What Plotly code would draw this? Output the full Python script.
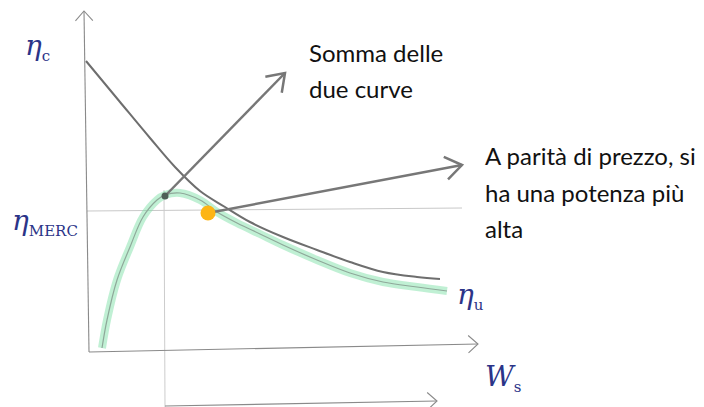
import numpy as np
import plotly.graph_objects as go

# Sketch coordinates: x = power Ws, y = efficiency (arbitrary units, origin at the axes corner)
eta_c_x = [-0.01, 0.33, 0.63, 0.88, 1.13, 1.38, 1.63, 1.96, 2.30, 2.63, 2.96, 3.30, 3.53]
eta_c_y = [2.91, 2.50, 2.14, 1.85, 1.61, 1.45, 1.30, 1.15, 1.02, 0.90, 0.80, 0.75, 0.73]

eta_u_x = [0.15, 0.20, 0.30, 0.43, 0.56, 0.70, 0.78, 0.93, 1.13, 1.30, 1.50, 1.73, 1.96, 2.30, 2.63, 2.96, 3.30, 3.60]
eta_u_y = [0.04, 0.32, 0.72, 1.05, 1.35, 1.52, 1.57, 1.59, 1.52, 1.40, 1.29, 1.18, 1.07, 0.92, 0.79, 0.70, 0.65, 0.61]

# Axes of the sketch (start, end)
y_axis = ([0.02, -0.03], [0.0, 3.41])
x_axis = ([0.02, 3.91], [0.0, 0.08])
x_axis_low = ([0.78, 3.50], [-0.54, -0.49])
guide_v = ([0.77, 0.78], [1.62, -0.55])
guide_h = ([0.0, 3.75], [1.41, 1.44])

# Highlighted points and callout arrows
peak_pt = (0.78, 1.56)
merc_pt = (1.21, 1.39)
arrow_sum_tip = (1.98, 2.79)
arrow_merc_tip = (3.75, 1.87)

# Text
note_sum = ["Somma delle", "due curve"]
note_sum_pos = (2.20, [3.00, 2.64])
note_merc = ["A parità di prezzo, si", "ha una potenza più", "alta"]
note_merc_pos = (3.96, [1.97, 1.60, 1.24])

INK = "#2b3488"


def chevron(tip, prev, length=0.13, half_angle=38):
    d = np.array(tip) - np.array(prev)
    d = d / np.linalg.norm(d)
    a = np.radians(half_angle)
    out = []
    for s in (1, -1):
        c, sn = np.cos(s * a), np.sin(s * a)
        r = np.array([d[0] * c - d[1] * sn, d[0] * sn + d[1] * c])
        out.append(np.array(tip) - length * r)
    return [out[0][0], tip[0], out[1][0]], [out[0][1], tip[1], out[1][1]]


fig = go.Figure()

def line(xs, ys, color, width, dash=None, shape="linear", opacity=1.0):
    fig.add_trace(go.Scatter(x=xs, y=ys, mode="lines", opacity=opacity,
                             line=dict(color=color, width=width, dash=dash, shape=shape),
                             hoverinfo="skip", showlegend=False))

# guides
line(*guide_v, "#cccccc", 1)
line(*guide_h, "#c8c8c8", 1)

# axes with open arrowheads
for ax_xy in (y_axis, x_axis, x_axis_low):
    line(*ax_xy, "#8a8a8a", 1.1)
    tip = (ax_xy[0][1], ax_xy[1][1])
    prev = (ax_xy[0][0], ax_xy[1][0])
    line(*chevron(tip, prev, length=0.13, half_angle=42), "#8a8a8a", 1.1)

# efficiency curves
line(eta_u_x, eta_u_y, "rgba(130,225,170,0.5)", 8, shape="spline")
line(eta_u_x, eta_u_y, "#8fa89a", 1.2, shape="spline")
line(eta_c_x, eta_c_y, "#6e6e6e", 2, shape="spline")

# callout arrows
for start, tip in ((peak_pt, arrow_sum_tip), (merc_pt, arrow_merc_tip)):
    line([start[0], tip[0]], [start[1], tip[1]], "#777777", 2.5)
    line(*chevron(tip, start, length=0.2, half_angle=35), "#777777", 2.5)

fig.add_trace(go.Scatter(x=[peak_pt[0]], y=[peak_pt[1]], mode="markers",
                         marker=dict(size=7, color="#4f5f57"), hoverinfo="skip", showlegend=False))
fig.add_trace(go.Scatter(x=[merc_pt[0]], y=[merc_pt[1]], mode="markers",
                         marker=dict(size=15, color="#fdb515"), hoverinfo="skip", showlegend=False))

# notes
note_font = dict(family="Lato", size=24, color="#111111")
for txt, yy in zip(note_sum, note_sum_pos[1]):
    fig.add_annotation(x=note_sum_pos[0], y=yy, text=txt, showarrow=False, xanchor="left",
                       yanchor="middle", font=note_font)
for txt, yy in zip(note_merc, note_merc_pos[1]):
    fig.add_annotation(x=note_merc_pos[0], y=yy, text=txt, showarrow=False, xanchor="left",
                       yanchor="middle", font=note_font)

# handwritten symbols
hand = dict(family="DejaVu Serif", size=28, color=INK)
small = "<span style='font-size:15px'>{}</span>"
fig.add_annotation(x=-0.50, y=3.05, text="<i>η</i><sub>" + small.format("c") + "</sub>",
                   showarrow=False, font=hand)
fig.add_annotation(x=-0.42, y=1.30, text="<i>η</i><sub>" + small.format("MERC") + "</sub>",
                   showarrow=False, font=hand)
fig.add_annotation(x=3.83, y=0.56, text="<i>η</i><sub>" + small.format("u") + "</sub>",
                   showarrow=False, font=hand)
fig.add_annotation(x=4.16, y=-0.26, text="<i>W</i><sub>" + small.format("s") + "</sub>",
                   showarrow=False, font=hand)

fig.update_layout(
    width=704, height=407, margin=dict(l=0, r=0, t=0, b=0),
    paper_bgcolor="white", plot_bgcolor="white",
    xaxis=dict(range=[-0.87, 6.17], visible=False, fixedrange=True),
    yaxis=dict(range=[-0.55, 3.52], visible=False, fixedrange=True),
)

fig.write_html("out.html")
